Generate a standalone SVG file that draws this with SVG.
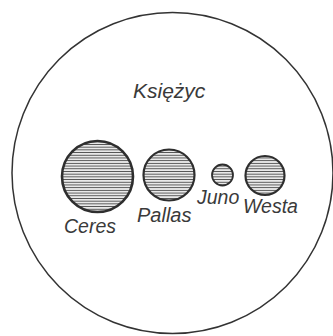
<svg xmlns="http://www.w3.org/2000/svg" width="333" height="336" viewBox="0 0 333 336">
  <style>
    .body { fill: url(#hatch); stroke: #2e2e2e; }
    .label { font-family: "Liberation Sans", Arial, sans-serif; font-style: italic; font-size: 19.5px; fill: #3a3a3a; }
  </style>
  <defs>
    <!-- horizontal line shading for the asteroid discs -->
    <pattern id="hatch" width="6" height="2.7" patternUnits="userSpaceOnUse">
      <rect width="6" height="2.7" fill="#f2f2f2"/>
      <line x1="0" y1="1.35" x2="6" y2="1.35" stroke="#4e4e4e" stroke-width="1"/>
    </pattern>
  </defs>
  <rect width="333" height="336" fill="#ffffff"/>

  <!-- the Moon's disc -->
  <g id="ksiezyc">
    <circle cx="172.5" cy="173" r="160.5" fill="none" stroke="#333" stroke-width="1.5"/>
    <text class="label" x="133" y="98" style="font-size:21px">Księżyc</text>
  </g>

  <g id="ceres">
    <circle class="body" cx="97.5" cy="176.5" r="35.5" stroke-width="2.6"/>
    <text class="label" x="64" y="233">Ceres</text>
  </g>

  <g id="pallas">
    <circle class="body" cx="169" cy="175" r="25.5" stroke-width="2.2"/>
    <text class="label" x="137" y="222" style="font-size:20px">Pallas</text>
  </g>

  <g id="juno">
    <circle class="body" cx="222.5" cy="175" r="10.5" stroke-width="1.8"/>
    <text class="label" x="197" y="204">Juno</text>
  </g>

  <g id="westa">
    <circle class="body" cx="265" cy="175.5" r="19.5" stroke-width="2.2"/>
    <text class="label" x="243" y="213">Westa</text>
  </g>

  <g id="connectors"></g>
</svg>
